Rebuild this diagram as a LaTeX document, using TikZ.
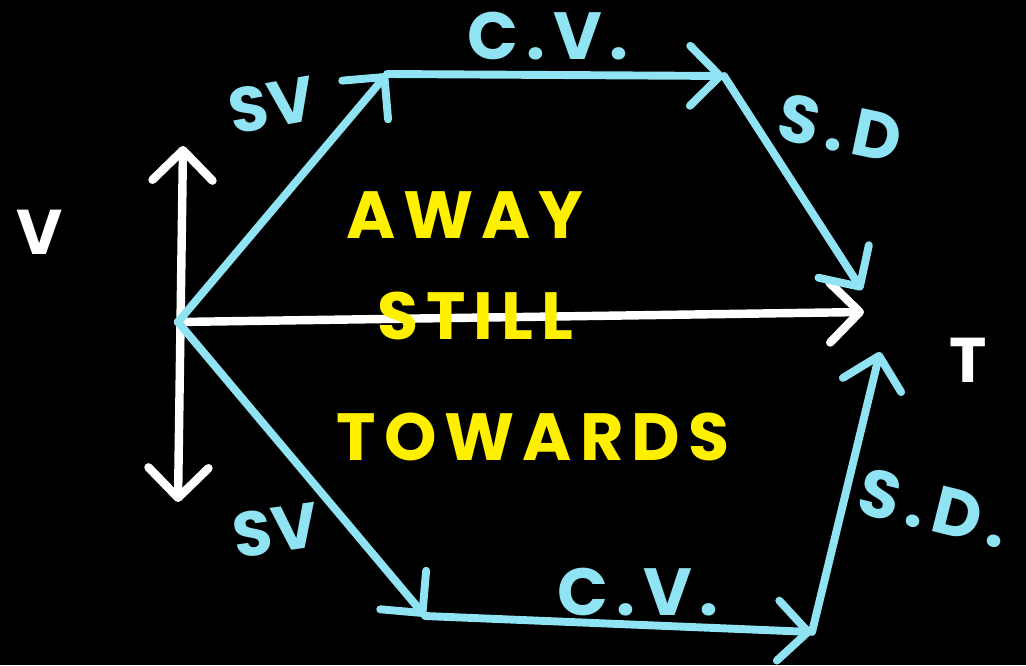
\documentclass[tikz,border=0pt]{standalone}
\usepackage{fontspec}
\setsansfont{Poppins}
\usetikzlibrary{arrows.meta}
\definecolor{skycol}{HTML}{8FE3F2}
\definecolor{chalkcol}{HTML}{FFFFFF}
\definecolor{notecol}{HTML}{FFF000}
\tikzset{
  hand/.style={text=#1, inner sep=0pt,
    font=\sffamily\bfseries\fontsize{36}{40}\selectfont},
  handwide/.style={text=#1, inner sep=0pt,
    font=\sffamily\bfseries\fontsize{38}{40}\selectfont\addfontfeature{LetterSpace=12}}}

\begin{document}
\begin{tikzpicture}[x=0.02cm, y=-0.02cm,
      >={Straight Barb[round, length=6mm, width=12mm]},
      ax/.style={line width=4.8pt, chalkcol, line cap=round},
      seg/.style={->, line width=4.5pt, skycol, line cap=round}]
      \fill[black] (0,0) rectangle (1026,665);
      \useasboundingbox (0,0) rectangle (1026,665);
      \coordinate (o) at (178,322);
      \coordinate (vtop) at (183,146);
      \coordinate (vbot) at (178,502);
      \coordinate (tend) at (864,312);
      \coordinate (up1) at (387,74);
      \coordinate (up2) at (724,76);
      \coordinate (up3) at (862,290);
      \coordinate (dn1) at (425,616);
      \coordinate (dn2) at (812,632);
      \coordinate (dn3) at (880,352);
      % axes
      \draw[ax, <->] (vbot) -- (vtop);
      \draw[ax, ->] (o) -- (tend);
      \node[hand=chalkcol] (vlab) at (40,232) {V};
      \node[hand=chalkcol] (tlab) at (968,360) {T};
      % away from the sensor
      \draw[seg] (o) -- (up1);
      \draw[seg] (up1) -- (up2);
      \draw[seg] (up2) -- (up3);
      % towards the sensor
      \draw[seg] (o) -- (dn1);
      \draw[seg] (dn1) -- (dn2);
      \draw[seg] (dn2) -- (dn3);
      \node[hand=skycol, rotate=10] (sv1) at (272,105) {SV};
      \node[handwide=skycol] (cv1) at (548,36) {C.V.};
      \node[handwide=skycol, rotate=-12] (sd1) at (840,128) {S.D};
      \node[hand=skycol, rotate=8] (sv2) at (276,530) {SV};
      \node[handwide=skycol] (cv2) at (638,592) {C.V.};
      \node[handwide=skycol, rotate=-14] (sd2) at (934,508) {S.D.};
      % regions
      \node[handwide=notecol] (away) at (465,215) {AWAY};
      \node[handwide=notecol] (still) at (475,316) {STILL};
      \node[handwide=notecol] (towards) at (533,437) {TOWARDS};
    \end{tikzpicture}
\end{document}
